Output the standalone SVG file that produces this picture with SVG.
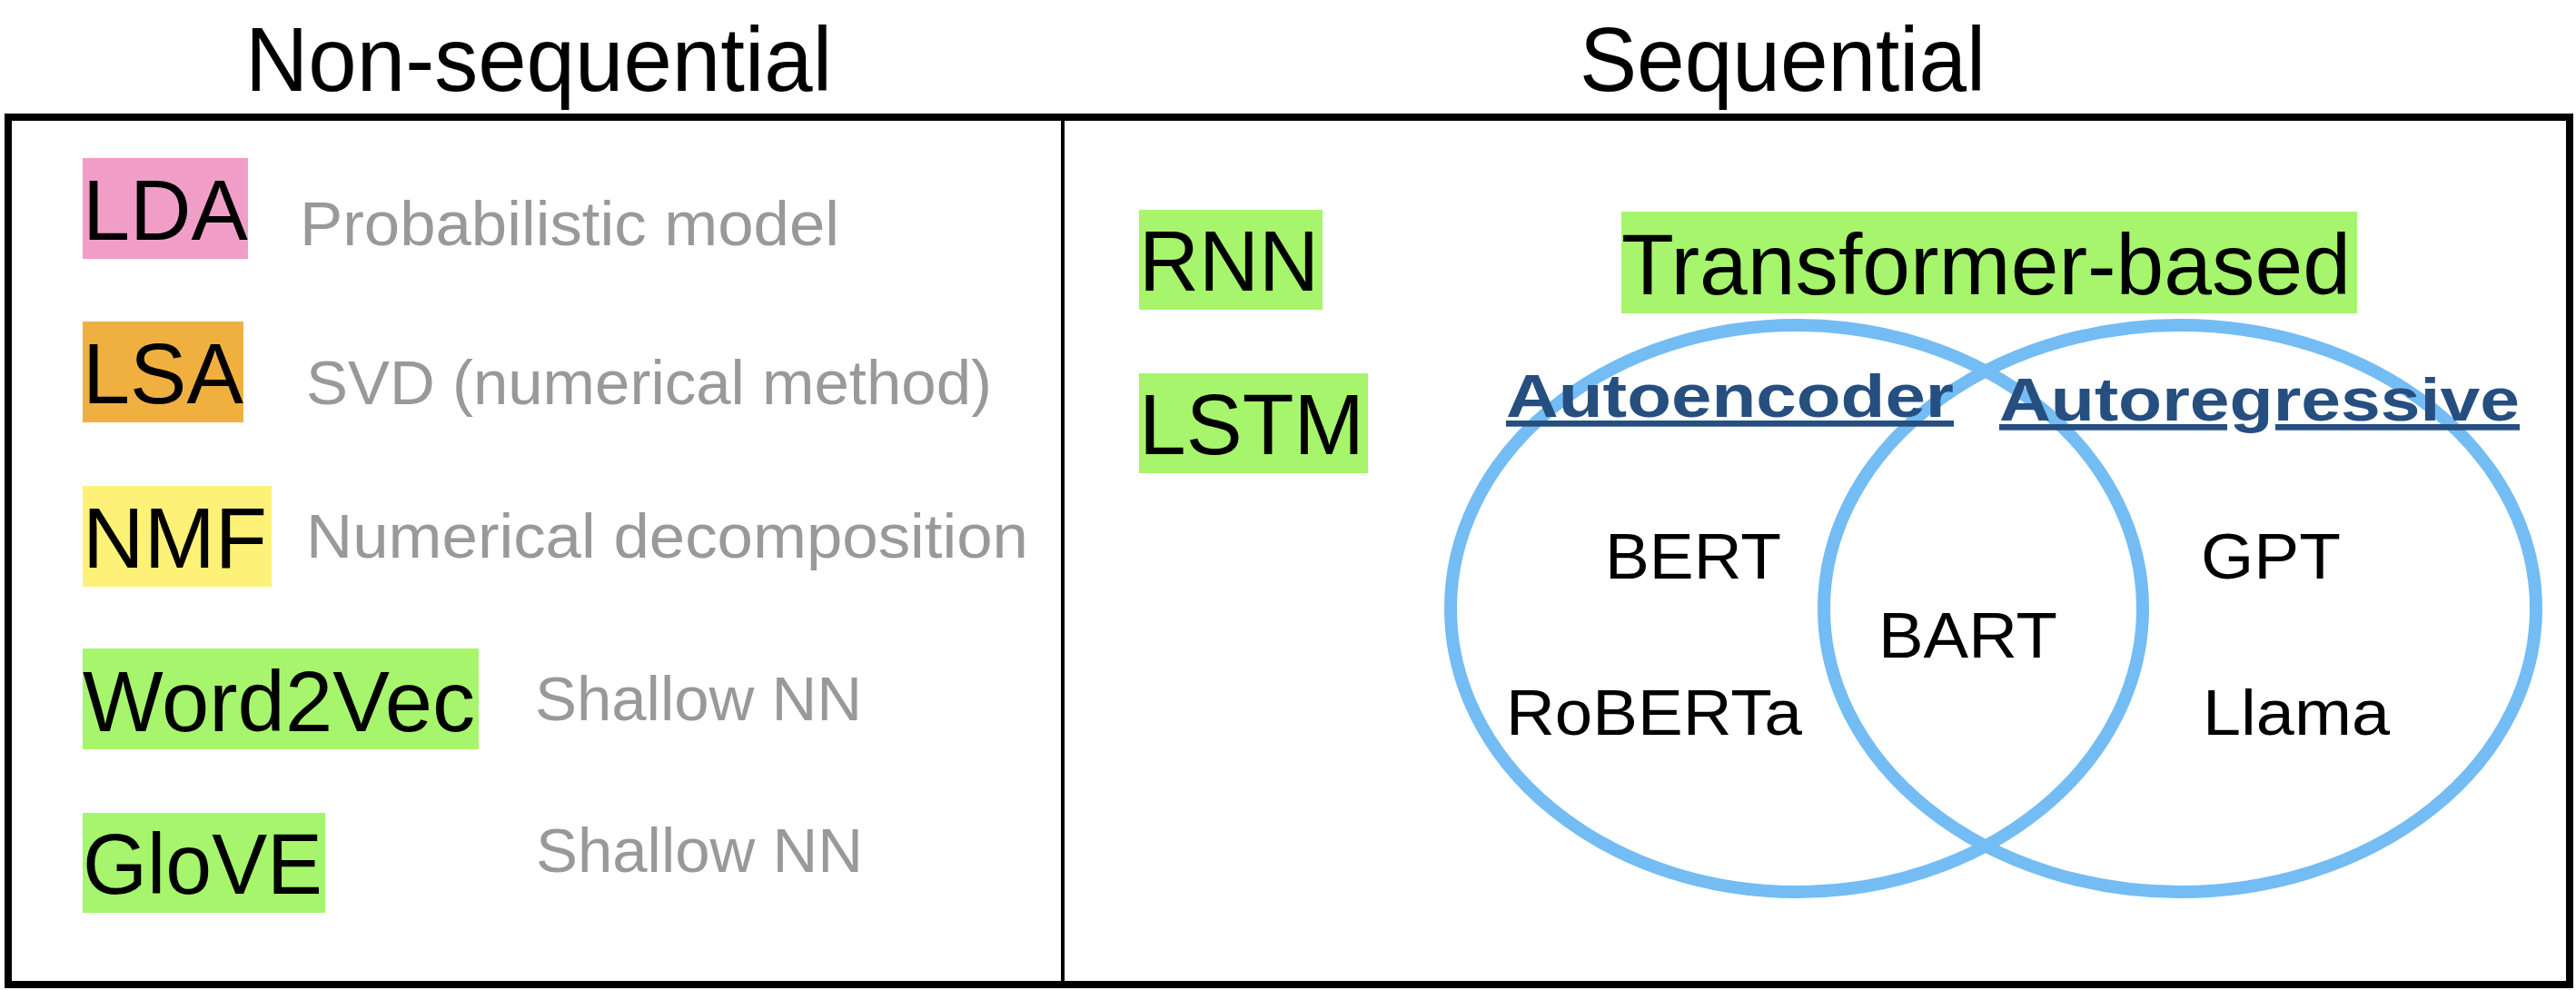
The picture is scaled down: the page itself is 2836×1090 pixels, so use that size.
<svg xmlns="http://www.w3.org/2000/svg" width="2836" height="1090" viewBox="0 0 2836 1090">
<style>
text{font-family:"Liberation Sans",Arial,sans-serif}
.t{font-size:100px;fill:#000}
.k{font-size:95px;fill:#000}
.d{font-size:68px;fill:#999}
.m{font-size:71px;fill:#000}
.h{font-size:67px;font-weight:bold;fill:#264f80;text-decoration:underline}
.c{fill:none;stroke:#74bcf4;stroke-width:14}
</style>
<rect width="2836" height="1090" fill="#fff"/>
<g id="frame">
<rect x="9" y="129" width="2820" height="955" fill="none" stroke="#000" stroke-width="8"/>
<line x1="1170" y1="129" x2="1170" y2="1084" stroke="#000" stroke-width="4"/>
</g>
<g id="titles">
<text class="t" x="270" y="100" textLength="646" lengthAdjust="spacingAndGlyphs">Non-sequential</text>
<text class="t" x="1739" y="100" textLength="447" lengthAdjust="spacingAndGlyphs">Sequential</text>
</g>
<g id="lda"><rect x="91" y="174" width="182" height="111" fill="#f09ec8"/><text class="k" x="91" y="264" textLength="182" lengthAdjust="spacingAndGlyphs">LDA</text><text class="d" x="330" y="270" textLength="594" lengthAdjust="spacingAndGlyphs">Probabilistic model</text></g>
<g id="lsa"><rect x="91" y="354" width="177" height="111" fill="#f0b040"/><text class="k" x="91" y="444" textLength="177" lengthAdjust="spacingAndGlyphs">LSA</text><text class="d" x="337" y="445" textLength="755" lengthAdjust="spacingAndGlyphs">SVD (numerical method)</text></g>
<g id="nmf"><rect x="91" y="535" width="208" height="111" fill="#fdf277"/><text class="k" x="91" y="625" textLength="203" lengthAdjust="spacingAndGlyphs">NMF</text><text class="d" x="337" y="614" textLength="795" lengthAdjust="spacingAndGlyphs">Numerical decomposition</text></g>
<g id="word2vec"><rect x="91" y="714" width="436" height="111" fill="#a6f56c"/><text class="k" x="91" y="805" textLength="432" lengthAdjust="spacingAndGlyphs">Word2Vec</text><text class="d" x="589" y="793" textLength="360" lengthAdjust="spacingAndGlyphs">Shallow NN</text></g>
<g id="glove"><rect x="91" y="895" width="267" height="110" fill="#a6f56c"/><text class="k" x="91" y="984" textLength="264" lengthAdjust="spacingAndGlyphs">GloVE</text><text class="d" x="590" y="960" textLength="360" lengthAdjust="spacingAndGlyphs">Shallow NN</text></g>
<g id="rnn"><rect x="1254" y="231" width="202" height="110" fill="#a6f56c"/><text class="k" x="1254" y="320" textLength="198" lengthAdjust="spacingAndGlyphs">RNN</text></g>
<g id="lstm"><rect x="1254" y="411" width="252" height="110" fill="#a6f56c"/><text class="k" x="1254" y="500" textLength="248" lengthAdjust="spacingAndGlyphs">LSTM</text></g>
<g id="transformer"><rect x="1785" y="233" width="810" height="112" fill="#a6f56c"/><text class="k" x="1785" y="324" textLength="803" lengthAdjust="spacingAndGlyphs">Transformer-based</text></g>
<g id="venn">
<ellipse class="c" cx="1978" cy="670" rx="381" ry="312"/>
<ellipse class="c" cx="2400" cy="670" rx="392" ry="312"/>
</g>
<g id="autoencoder"><text class="h" x="1658" y="459" textLength="493" lengthAdjust="spacingAndGlyphs">Autoencoder</text></g>
<g id="autoregressive"><text class="h" x="2201" y="463" textLength="573" lengthAdjust="spacingAndGlyphs">Autoregressive</text></g>
<g id="models">
<text class="m" x="1767" y="637" textLength="194" lengthAdjust="spacingAndGlyphs">BERT</text>
<text class="m" x="1658" y="809" textLength="326" lengthAdjust="spacingAndGlyphs">RoBERTa</text>
<text class="m" x="2068" y="724" textLength="197" lengthAdjust="spacingAndGlyphs">BART</text>
<text class="m" x="2423" y="637" textLength="154" lengthAdjust="spacingAndGlyphs">GPT</text>
<text class="m" x="2425" y="809" textLength="206" lengthAdjust="spacingAndGlyphs">Llama</text>
</g>
</svg>
